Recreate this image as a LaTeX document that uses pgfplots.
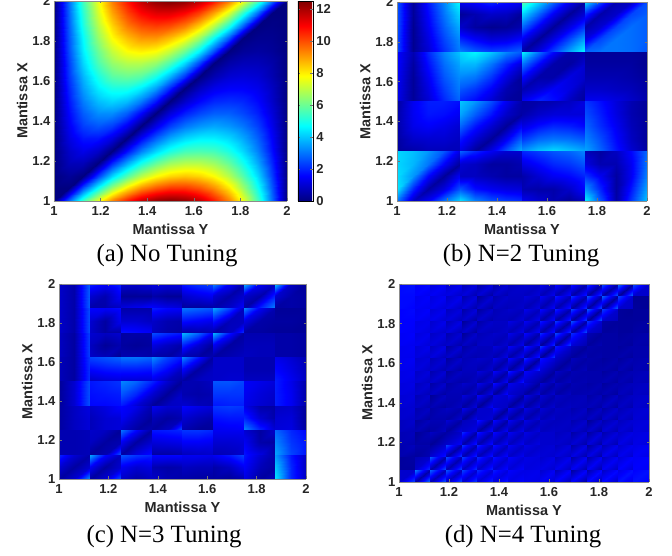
\documentclass[border=0pt]{standalone}
\usepackage{pgfplots}
\pgfplotsset{compat=1.18}
\usepackage{fontspec}
\setmainfont{Liberation Sans}
\newfontfamily\capfont{Liberation Serif}
\definecolor{axg}{rgb}{0.15,0.15,0.15}
\tikzset{capt/.style={font=\capfont\fontsize{24.8}{25}\selectfont,color=black}}
\pgfplotsset{
 hm/.style={scale only axis,view={0}{90},xmin=1,xmax=2,ymin=1,ymax=2,
  xtick={1,1.2,1.4,1.6,1.8,2},ytick={1,1.2,1.4,1.6,1.8,2},
  colormap/jet,point meta min=0,point meta max=12.5,axis on top,
  tick align=inside,major tick length=2.5pt,axis line style={color=black!45},
  every tick/.style={color=black!55,line width=0.4pt},
  /pgf/number format/assume math mode=true,
  tick label style={font=\fontsize{13}{13}\selectfont\bfseries,color=axg},
  label style={font=\fontsize{14.5}{14.5}\selectfont\bfseries,color=axg},
  xlabel={Mantissa Y},ylabel={Mantissa X},
  xticklabel style={yshift=-2pt},
  xlabel style={yshift=-1pt},ylabel style={yshift=-2pt}}
}
\begin{document}
\begin{tikzpicture}[x=1pt,y=1pt]
\useasboundingbox (0,0) rectangle (672,556);
\begin{axis}[hm,at={(54pt,355pt)},anchor=south west,width=233pt,height=200pt,colorbar,
 colorbar style={at={(1.047,0)},anchor=south west,width=15pt,ytick={0,2,4,6,8,10,12},major tick length=2.5pt,
 ylabel={},xlabel={},/pgf/number format/assume math mode=true,yticklabel style={font=\fontsize{13}{13}\selectfont\bfseries,color=axg}}]
\addplot3[surf,shader=interp,z buffer=none,mesh/cols=17] table[header=false,row sep=\\,z index=0,
 x expr={1+mod(\coordindex,17)/16},y expr={2-floor(\coordindex/17+0.01)/16}]{
0\\2.9\\5.5\\7.6\\9.4\\10.7\\11.7\\12.3\\12.5\\12.3\\11.7\\10.7\\9.4\\7.6\\5.5\\2.9\\0\\
0\\2.8\\5.2\\7.3\\8.9\\10.1\\10.9\\11.3\\11.3\\10.9\\10.1\\8.9\\7.3\\5.2\\2.8\\0\\0\\
0\\2.7\\5.0\\6.9\\8.3\\9.4\\10.0\\10.2\\10.0\\9.4\\8.3\\6.9\\5.0\\2.7\\0\\.1\\0\\
0\\2.6\\4.7\\6.5\\7.8\\8.6\\9.1\\9.1\\8.6\\7.8\\6.5\\4.7\\2.6\\0\\.2\\.2\\0\\
0\\2.5\\4.5\\6.0\\7.1\\7.8\\8.0\\7.8\\7.1\\6.0\\4.5\\2.5\\0\\.3\\.4\\.3\\0\\
0\\2.3\\4.2\\5.6\\6.5\\6.9\\6.9\\6.5\\5.6\\4.2\\2.3\\0\\.5\\.7\\.7\\.5\\0\\
0\\2.2\\3.8\\5.0\\5.8\\6.0\\5.8\\5.0\\3.8\\2.2\\0\\.6\\1.0\\1.1\\1.0\\.6\\0\\
0\\2.0\\3.5\\4.5\\5.0\\5.0\\4.5\\3.5\\2.0\\0\\.8\\1.3\\1.5\\1.5\\1.3\\.8\\0\\
0\\1.8\\3.1\\3.9\\4.2\\3.9\\3.1\\1.8\\0\\.9\\1.6\\2.0\\2.1\\2.0\\1.6\\.9\\0\\
0\\1.6\\2.7\\3.3\\3.3\\2.7\\1.6\\0\\1.1\\1.9\\2.4\\2.7\\2.7\\2.4\\1.9\\1.1\\0\\
0\\1.4\\2.3\\2.6\\2.3\\1.4\\0\\1.3\\2.3\\3.0\\3.4\\3.6\\3.4\\3.0\\2.3\\1.3\\0\\
0\\1.2\\1.8\\1.8\\1.2\\0\\1.5\\2.7\\3.6\\4.2\\4.5\\4.5\\4.2\\3.6\\2.7\\1.5\\0\\
0\\.9\\1.3\\.9\\0\\1.7\\3.1\\4.2\\5.0\\5.5\\5.6\\5.5\\5.0\\4.2\\3.1\\1.7\\0\\
0\\.7\\.7\\0\\2.0\\3.6\\4.9\\5.9\\6.6\\6.9\\6.9\\6.6\\5.9\\4.9\\3.6\\2.0\\0\\
0\\.3\\0\\2.3\\4.2\\5.7\\6.9\\7.8\\8.3\\8.5\\8.3\\7.8\\6.9\\5.7\\4.2\\2.3\\0\\
0\\0\\2.6\\4.8\\6.6\\8.1\\9.2\\9.9\\10.3\\10.3\\9.9\\9.2\\8.1\\6.6\\4.8\\2.6\\0\\
0\\2.9\\5.5\\7.6\\9.4\\10.7\\11.7\\12.3\\12.5\\12.3\\11.7\\10.7\\9.4\\7.6\\5.5\\2.9\\0\\
};
\end{axis}
\begin{axis}[hm,at={(397pt,355pt)},anchor=south west,width=250pt,height=199pt]
\addplot3[surf,shader=interp,z buffer=none,mesh/cols=20] table[header=false,row sep=\\,z index=0,
 x expr={1+(mod(\coordindex,20)-floor(mod(\coordindex,20)/5+0.01))/16},y expr={2-(floor(\coordindex/20+0.01)-floor(\coordindex/100+0.001))/16}]{
2.7\\.3\\1.8\\3.2\\4.7\\1.4\\1.6\\2\\1.7\\1.4\\5.7\\4.2\\2.8\\1.4\\.4\\4.2\\2.4\\.6\\.8\\2.5\\
2.6\\.3\\1.6\\3\\4.2\\.3\\.6\\.9\\.8\\.3\\4.2\\2.8\\1.4\\.3\\1.1\\2\\.5\\.9\\2.4\\2.7\\
2.6\\.2\\1.4\\2.7\\3.7\\.9\\.4\\.2\\.3\\.6\\2.8\\1.4\\.3\\1.2\\2.3\\.5\\1\\2.4\\2.9\\2.7\\
2.5\\.2\\1.2\\2.4\\3.3\\2\\1.5\\1.1\\1.2\\1.6\\1.4\\.3\\1.2\\2.4\\3.6\\1.2\\2.4\\3\\2.9\\2.7\\
2.5\\.2\\1\\2.1\\3.1\\3.2\\2.7\\2.4\\2.5\\2.8\\.4\\1.2\\2.4\\3.6\\4.7\\2.8\\3\\3\\2.9\\2.6\\
1.6\\.6\\2\\3.2\\4\\4.2\\4.6\\4\\3.2\\2.6\\4.6\\3\\1.6\\.5\\.6\\.3\\.3\\.3\\.3\\.2\\
1.6\\.4\\1.7\\2.9\\3.6\\3.8\\3.8\\3\\2\\1\\3\\1.6\\.5\\.4\\1\\.4\\.4\\.4\\.4\\.2\\
1.5\\.3\\1.4\\2.6\\3.3\\3.2\\3\\2.2\\1.2\\.3\\1.6\\.5\\.5\\1.2\\.9\\.6\\.6\\.6\\.5\\.3\\
1.4\\.3\\1.2\\2.3\\3.1\\2.6\\2.2\\1.5\\.6\\.3\\.6\\1\\1.5\\1.2\\.5\\.9\\.9\\.8\\.7\\.4\\
1.3\\.3\\1\\2\\2.8\\2\\1.6\\1\\.4\\.3\\1.4\\2\\1.7\\.8\\.3\\1.4\\1.4\\1.2\\.9\\.5\\
.4\\1.4\\1.9\\1.9\\1.7\\4\\3.4\\2.5\\1.4\\.5\\.4\\.5\\.6\\.8\\1.2\\2.2\\1.7\\1.1\\.6\\.3\\
.5\\1.4\\1.8\\1.7\\1.4\\3.6\\2.7\\1.8\\.9\\.4\\.5\\.9\\1.1\\1.1\\1.1\\2.5\\1.9\\1.2\\.6\\.3\\
.5\\1.3\\1.5\\1.3\\1\\2.8\\1.8\\1\\.3\\1.6\\1.2\\1.7\\2\\1.9\\1.6\\2.8\\2.1\\1.4\\.7\\.3\\
.4\\.9\\1\\1\\.8\\1.8\\1\\.3\\1.4\\2.8\\2.2\\2.8\\3\\2.9\\2.6\\3.2\\2.5\\1.6\\.8\\.3\\
.3\\.5\\.7\\.7\\.7\\1.2\\.3\\1.3\\2.6\\3.8\\3.4\\4\\4.3\\4\\3.6\\3.6\\2.8\\1.8\\1\\.4\\
4.2\\3.9\\3.4\\2.6\\1.2\\2.8\\2\\1.4\\1\\1\\2\\2.3\\2.6\\2.8\\3.2\\.7\\.4\\.8\\1.6\\2.9\\
4.2\\3.8\\3\\1.5\\.3\\1\\.8\\.4\\.4\\.6\\1.2\\1.6\\2\\2.2\\2.6\\1.2\\.6\\.6\\1.4\\3\\
4.3\\3.4\\1.6\\.3\\1.5\\.8\\.8\\.6\\.4\\.4\\.5\\1\\1.4\\1.6\\2\\2.2\\1.4\\.4\\1.4\\3.2\\
4.4\\2\\.4\\1.2\\2.6\\2.6\\1.7\\1.4\\1.2\\1.1\\.6\\.5\\.5\\.9\\1.6\\3.4\\2\\.4\\1.8\\3.6\\
3\\.8\\1.5\\3\\4.2\\4.4\\3.2\\2.6\\2.3\\2.1\\1.4\\1\\.6\\.3\\.8\\4.6\\2.6\\.5\\2.2\\4\\
};
\end{axis}
\begin{axis}[hm,at={(59pt,77pt)},anchor=south west,width=247pt,height=195pt]
\addplot3[surf,shader=interp,z buffer=none,mesh/cols=24] table[header=false,row sep=\\,z index=0,
 x expr={1+(mod(\coordindex,24)-floor(mod(\coordindex,24)/3+0.01))/16},y expr={2-(floor(\coordindex/24+0.01)-floor(\coordindex/72+0.001))/16}]{
.9\\.5\\2.8\\1.9\\1.5\\2\\1\\.9\\1.1\\1.2\\1.1\\1.2\\1.8\\2.2\\2.4\\3.2\\1.5\\.5\\3.8\\1.4\\.8\\4\\.8\\.3\\
.9\\.5\\2.8\\1\\.6\\1.5\\.3\\.3\\.3\\.5\\.3\\.3\\.9\\1.2\\1.4\\1\\.5\\1\\.9\\.5\\2\\1\\.5\\.4\\
.9\\.5\\2.8\\.5\\.5\\.8\\1.2\\1.4\\1.7\\1.6\\1.3\\1.1\\.3\\.3\\.4\\.5\\.9\\1.6\\.4\\2\\3.2\\.4\\.5\\.4\\
.9\\.5\\2.6\\1.6\\1.5\\1.7\\.5\\.5\\.5\\1.9\\1.6\\1.5\\3\\2.8\\2.6\\3.6\\2.4\\.8\\3.2\\1.4\\.6\\.3\\.3\\.3\\
.9\\.5\\2.6\\1\\.4\\1.4\\1\\1\\.8\\.9\\.6\\.5\\1.7\\1.5\\1.3\\1.8\\.7\\.8\\1.2\\.5\\.4\\.4\\.4\\.3\\
.9\\.5\\2.6\\.9\\.4\\.4\\1.8\\1.7\\1.5\\.8\\.5\\.4\\.4\\.5\\.6\\.4\\.8\\2.2\\.4\\.4\\.3\\.3\\.3\\.3\\
.8\\.4\\2.4\\1\\.8\\1\\.4\\.5\\.5\\2.5\\2.1\\1.8\\3.8\\2.8\\1.4\\3.8\\1.8\\.4\\.6\\.6\\.6\\.5\\.5\\.4\\
.8\\.4\\2.4\\.8\\.3\\.6\\.4\\.3\\.4\\1.2\\.8\\.5\\2\\1\\.3\\1.4\\.4\\.6\\.7\\.7\\.7\\.5\\.5\\.4\\
.8\\.4\\2.4\\.9\\.7\\.2\\.6\\.6\\.5\\.5\\.4\\.9\\.6\\.4\\.6\\.4\\.6\\.8\\.8\\.7\\.7\\.5\\.5\\.4\\
.7\\.4\\2.3\\2.4\\2.6\\2.8\\3\\3\\2.8\\3.3\\2.4\\1.8\\3.2\\1.8\\.4\\.9\\.9\\.9\\.6\\.6\\.6\\1.3\\1\\.6\\
.7\\.4\\2.2\\1.6\\1.8\\1.9\\1.9\\1.9\\1.8\\2.2\\1.6\\.8\\1.6\\.4\\.8\\.9\\.9\\.9\\.6\\.6\\.6\\1.6\\1.2\\.7\\
.7\\.4\\2.2\\.8\\1\\1.1\\1\\1\\1\\1.2\\.7\\.4\\.4\\.8\\.9\\.9\\1\\1\\.8\\.8\\.8\\1.9\\1.4\\.8\\
.3\\1\\2.6\\1.8\\2\\2.2\\3.2\\2.8\\2\\2\\1\\.3\\.6\\.6\\.8\\2.6\\2.6\\2.4\\1.5\\1.3\\1.1\\1.9\\1.3\\.5\\
.3\\1\\2.6\\1.7\\1.8\\1.9\\2.6\\2\\1\\1\\.3\\.9\\.6\\.5\\.6\\2.2\\2.2\\2.2\\1.4\\1.1\\.9\\1.9\\1.4\\.5\\
.3\\1\\2.6\\1.6\\1.6\\1.7\\1.8\\1\\.4\\.3\\.8\\.9\\1\\.7\\.6\\1.8\\1.9\\1.9\\1.3\\1\\.8\\1.9\\1.4\\.5\\
.4\\.8\\1.2\\.9\\1.2\\1.6\\1.6\\1.3\\.6\\1.4\\1\\1\\1.6\\1.3\\1.1\\2.2\\2.3\\2.2\\1.3\\.5\\.4\\.8\\.9\\.3\\
.4\\.8\\1.1\\.7\\1\\1.1\\1.4\\.8\\.3\\.7\\.4\\.6\\1\\.7\\.5\\1.7\\1.8\\1.8\\2\\1\\.5\\1\\1.1\\.3\\
.4\\.8\\1.1\\.7\\1\\1.1\\.9\\.4\\.6\\.4\\.8\\2.6\\.6\\.3\\.3\\1.3\\1.4\\1.5\\3.2\\2\\1\\1.1\\1.2\\.4\\
.6\\.6\\.7\\.9\\.8\\.3\\3\\1.6\\.4\\1.8\\1.9\\2\\2.2\\2.2\\2\\1.4\\1.4\\1.4\\1\\.4\\.9\\2.8\\2\\1.6\\
.6\\.6\\.7\\.8\\.4\\.6\\1.4\\.4\\1\\1.1\\1.2\\1.3\\1.5\\1.5\\1.4\\1\\1\\1.1\\1.4\\.5\\.4\\3.2\\2.2\\1.8\\
.6\\.6\\.7\\.3\\.6\\2.8\\.4\\1.2\\1.8\\.4\\.4\\.5\\.7\\.8\\.9\\.6\\.7\\1\\1.8\\1.2\\.4\\3.6\\2.4\\1.8\\
2\\1\\.5\\3.6\\1.6\\.8\\2.6\\2.2\\2\\1.6\\1.6\\1.6\\1.4\\1.4\\1.3\\1.4\\1.8\\2.4\\1.8\\1\\.5\\3.4\\1.8\\.8\\
1\\.4\\1\\1.4\\.4\\1\\1.4\\1\\1.2\\.6\\.5\\.6\\.8\\.7\\.7\\.5\\.8\\1.4\\1.5\\.7\\.4\\4\\2\\.8\\
.4\\1\\3.4\\.4\\1\\2.6\\.9\\.5\\.8\\.9\\.6\\.5\\.5\\.4\\.4\\.4\\.3\\.6\\1.2\\.4\\.8\\4.4\\2\\.8\\
};
\end{axis}
\begin{axis}[hm,at={(399pt,74pt)},anchor=south west,width=250pt,height=198pt,point meta min=-0.25,point meta max=12.25]
\addplot3[surf,shader=interp,z buffer=none,mesh/cols=32] table[header=false,row sep=\\,z index=0,
 x expr={1+(mod(\coordindex,32)-floor(mod(\coordindex,32)/2+0.01))/16},y expr={2-(floor(\coordindex/32+0.01)-floor(\coordindex/64+0.001))/16}]{
1.4\\1.5\\1.2\\1.4\\.9\\1.2\\.7\\1.1\\.4\\.9\\.2\\.9\\.2\\.8\\.5\\.7\\.8\\.6\\1.1\\.5\\1.4\\.4\\1.6\\.3\\2\\.2\\2.3\\.2\\2.7\\.1\\2.2\\.7\\
1.4\\1.4\\1.3\\1.1\\1.2\\.9\\1\\.6\\.9\\.3\\.8\\.1\\.7\\.3\\.6\\.6\\.5\\.9\\.4\\1.2\\.3\\1.5\\.2\\1.8\\.1\\2.2\\.1\\2.5\\0\\2.8\\.7\\.7\\
1.4\\1.4\\1.1\\1.3\\.9\\1.2\\.6\\1.1\\.3\\.9\\0\\.8\\.3\\.7\\.6\\.6\\.9\\.5\\1.2\\.4\\1.6\\.4\\1.9\\.3\\2.3\\.2\\2.5\\.1\\2.1\\.7\\0\\0\\
1.4\\1.3\\1.2\\1.1\\1.1\\.8\\1\\.5\\.9\\.2\\.7\\.1\\.6\\.4\\.5\\.7\\.4\\1\\.3\\1.4\\.3\\1.7\\.1\\2\\.1\\2.4\\0\\2.7\\.7\\.6\\.1\\0\\
1.3\\1.4\\1.1\\1.3\\.8\\1.1\\.5\\.9\\.2\\.9\\.1\\.7\\.4\\.6\\.7\\.5\\1.1\\.5\\1.4\\.3\\1.7\\.3\\2.1\\.2\\2.4\\.1\\2\\.7\\.1\\0\\.1\\.1\\
1.3\\1.3\\1.2\\1\\1.1\\.7\\.9\\.4\\.7\\.1\\.7\\.2\\.5\\.5\\.4\\.9\\.4\\1.2\\.2\\1.5\\.1\\1.9\\.1\\2.2\\0\\2.6\\.7\\.5\\.1\\.1\\.1\\.1\\
1.3\\1.3\\1\\1.1\\.7\\1.1\\.4\\1\\0\\.8\\.2\\.7\\.6\\.6\\1\\.5\\1.2\\.4\\1.6\\.3\\2\\.2\\2.3\\.2\\1.9\\.7\\.2\\.1\\.1\\.1\\.1\\.2\\
1.3\\1.2\\1.1\\.9\\.9\\.6\\.9\\.3\\.7\\0\\.6\\.4\\.5\\.7\\.4\\1.1\\.3\\1.4\\.2\\1.7\\.1\\2.1\\.1\\2.5\\.7\\.4\\.1\\.2\\.1\\.1\\.2\\.1\\
1.2\\1.3\\.9\\1.1\\.6\\.9\\.3\\.8\\0\\.7\\.4\\.6\\.7\\.5\\1.1\\.4\\1.4\\.3\\1.8\\.3\\2.2\\.2\\1.8\\.8\\.4\\.1\\.2\\.2\\.1\\.2\\.2\\.3\\
1.2\\1.1\\1.1\\.8\\.9\\.5\\.7\\.2\\.6\\.2\\.6\\.6\\.4\\.8\\.3\\1.2\\.1\\1.5\\0\\2\\0\\2.3\\.8\\.3\\.1\\.4\\.2\\.2\\.2\\.1\\.3\\.2\\
1.1\\1.2\\.8\\1.1\\.5\\1\\.1\\.8\\.2\\.6\\.5\\.5\\.9\\.5\\1.3\\.4\\1.7\\.3\\2\\.1\\1.6\\.7\\.5\\.1\\.3\\.2\\.2\\.2\\.1\\.3\\.3\\.3\\
1.1\\1.1\\.9\\.7\\.9\\.4\\.7\\.1\\.5\\.3\\.4\\.6\\.3\\1.1\\.2\\1.4\\.2\\1.8\\0\\2.2\\.7\\.1\\.1\\.5\\.2\\.3\\.2\\.2\\.3\\.1\\.3\\.3\\
1.1\\1.2\\.7\\.9\\.4\\.8\\.1\\.7\\.4\\.6\\.7\\.5\\1.1\\.3\\1.4\\.2\\1.8\\.2\\1.5\\.8\\.7\\.1\\.5\\.2\\.3\\.2\\.1\\.3\\.1\\.4\\.3\\.4\\
1.1\\1\\.9\\.6\\.7\\.3\\.6\\.1\\.5\\.5\\.3\\.8\\.2\\1.2\\.1\\1.6\\0\\2\\.8\\.1\\.1\\.7\\.2\\.5\\.2\\.3\\.3\\.1\\.4\\.1\\.4\\.3\\
1\\1.1\\.6\\.9\\.3\\.8\\.1\\.6\\.5\\.5\\.9\\.4\\1.3\\.3\\1.7\\.2\\1.3\\.7\\.8\\.1\\.6\\.2\\.4\\.3\\.3\\.3\\.1\\.4\\.2\\.4\\.4\\.5\\
1\\.9\\.8\\.5\\.7\\.2\\.5\\.2\\.3\\.6\\.2\\1\\.1\\1.4\\0\\1.8\\.7\\.2\\.1\\.8\\.2\\.6\\.3\\.4\\.3\\.3\\.4\\.1\\.4\\.2\\.5\\.4\\
.9\\1\\.5\\.8\\.2\\.7\\.2\\.5\\.7\\.4\\1.1\\.3\\1.5\\.2\\1.1\\.7\\1\\.1\\.8\\.2\\.6\\.2\\.4\\.3\\.2\\.4\\.1\\.4\\.3\\.5\\.5\\.6\\
.9\\.8\\.7\\.4\\.6\\.1\\.4\\.4\\.2\\.8\\.1\\1.2\\0\\1.6\\.7\\.4\\.1\\1\\.2\\.8\\.2\\.6\\.3\\.4\\.4\\.2\\.4\\.1\\.5\\.3\\.6\\.5\\
.8\\.9\\.4\\.7\\0\\.6\\.4\\.4\\.9\\.3\\1.3\\.2\\.9\\.7\\1.2\\.1\\1\\.2\\.8\\.3\\.6\\.4\\.4\\.5\\.2\\.5\\.1\\.6\\.3\\.6\\.6\\.7\\
.8\\.7\\.6\\.3\\.4\\.1\\.3\\.6\\.1\\1\\0\\1.4\\.7\\.6\\.1\\1.2\\.2\\1\\.3\\.8\\.4\\.6\\.5\\.4\\.5\\.2\\.6\\.1\\.6\\.3\\.7\\.6\\
.7\\.8\\.3\\.6\\.2\\.5\\.6\\.3\\1.1\\.2\\.7\\.7\\1.4\\.1\\1.2\\.2\\1\\.3\\.8\\.4\\.6\\.5\\.3\\.6\\.1\\.6\\.2\\.7\\.4\\.7\\.7\\.8\\
.7\\.6\\.5\\.1\\.3\\.3\\.2\\.8\\0\\1.2\\.7\\.8\\.1\\1.4\\.2\\1.2\\.3\\1\\.4\\.8\\.5\\.6\\.6\\.3\\.6\\.1\\.7\\.2\\.7\\.4\\.8\\.7\\
.5\\.7\\.1\\.5\\.4\\.4\\.8\\.2\\.5\\.7\\1.6\\.1\\1.4\\.2\\1.2\\.3\\1\\.4\\.7\\.5\\.5\\.6\\.3\\.7\\0\\.7\\.3\\.8\\.5\\.8\\.8\\.9\\
.5\\.4\\.4\\0\\.2\\.6\\.1\\1\\.7\\1\\.1\\1.6\\.2\\1.4\\.3\\1.2\\.4\\1\\.5\\.7\\.6\\.5\\.7\\.3\\.7\\0\\.8\\.3\\.8\\.5\\.9\\.8\\
.4\\.5\\0\\.4\\.6\\.2\\.2\\.7\\1.8\\.2\\1.6\\.3\\1.4\\.4\\1.2\\.5\\1\\.6\\.7\\.7\\.5\\.7\\.2\\.8\\.1\\.9\\.3\\.9\\.6\\1\\.9\\1\\
.4\\.3\\.2\\.2\\0\\.7\\.7\\1.3\\.2\\1.8\\.3\\1.6\\.4\\1.4\\.5\\1.2\\.6\\1\\.7\\.7\\.7\\.5\\.8\\.2\\.9\\.1\\.9\\.3\\1\\.6\\1\\.9\\
.3\\.5\\.3\\.3\\.1\\.8\\2.1\\.2\\1.9\\.3\\1.7\\.4\\1.5\\.5\\1.2\\.6\\1\\.7\\.7\\.8\\.5\\.9\\.2\\1\\.1\\1\\.4\\1.1\\.7\\1.1\\1\\1.2\\
.3\\.1\\.1\\.4\\.8\\1.6\\.2\\2.1\\.3\\1.9\\.4\\1.7\\.5\\1.5\\.6\\1.2\\.7\\1\\.8\\.7\\.9\\.5\\1\\.2\\1\\.1\\1.1\\.4\\1.1\\.7\\1.2\\1\\
.1\\.2\\.4\\.7\\2.4\\.2\\2.2\\.3\\2\\.5\\1.8\\.6\\1.5\\.7\\1.3\\.8\\1\\.9\\.7\\1\\.5\\1.1\\.2\\1.2\\.2\\1.2\\.5\\1.2\\.8\\1.3\\1.2\\1.3\\
.1\\.1\\.7\\1.9\\.2\\2.4\\.3\\2.2\\.5\\2\\.6\\1.8\\.7\\1.5\\.8\\1.3\\.9\\1\\1\\.7\\1.1\\.5\\1.2\\.2\\1.2\\.2\\1.2\\.5\\1.3\\.8\\1.3\\1.2\\
.7\\.7\\2.8\\.2\\2.5\\.4\\2.3\\.5\\2.1\\.7\\1.8\\.8\\1.6\\.9\\1.3\\1\\1\\1.1\\.7\\1.2\\.4\\1.3\\.1\\1.3\\.3\\1.4\\.6\\1.4\\1\\1.5\\1.3\\1.5\\
.7\\2.2\\.2\\2.8\\.4\\2.5\\.5\\2.3\\.7\\2.1\\.8\\1.8\\.9\\1.6\\1\\1.3\\1.1\\1\\1.2\\.7\\1.3\\.4\\1.3\\.1\\1.4\\.3\\1.4\\.6\\1.5\\1\\1.5\\1.3\\
};
\end{axis}
\node[capt] at (167,300) {(a) No Tuning};
\node[capt] at (521,300) {(b) N=2 Tuning};
\node[capt] at (164,19) {(c) N=3 Tuning};
\node[capt] at (523,19) {(d) N=4 Tuning};
\end{tikzpicture}
\end{document}
